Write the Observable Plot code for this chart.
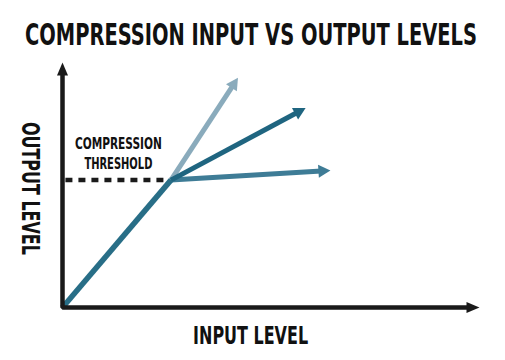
<!DOCTYPE html>
<html><head><meta charset="utf-8">
<script src="https://cdn.jsdelivr.net/npm/d3@7"></script>
<script src="https://cdn.jsdelivr.net/npm/@observablehq/plot@0.6"></script>
<style>
body{margin:0;background:#fff;}
#wrap{position:relative;width:505px;height:360px;overflow:hidden;background:#fff;}
#title{position:absolute;left:25px;top:20px;margin:0;display:inline-block;font-weight:bold;font-size:30px;line-height:30px;font-family:"DejaVu Sans Condensed","Liberation Sans Narrow","DejaVu Sans",sans-serif;font-stretch:condensed;white-space:nowrap;transform-origin:0 0;color:#111;}
#chart{position:absolute;left:0;top:60px;}
</style></head><body>
<div id="wrap"><h1 id="title">COMPRESSION INPUT VS OUTPUT LEVELS</h1><div id="chart"></div></div>
<script>
// ---- data (input / output level units, 0–100) ----
const kneeInput = [26];          // compression threshold (input)
const kneeOutput = [52];         // compression threshold (output)
const seriesNames = ["low ratio", "high ratio", "medium ratio"];
const endInput = [40.9, 62.1, 56.4];
const endOutput = [90.7, 55.7, 79.7];
const seriesColors = ["#8aabbc", "#3e7c96", "#1f6580"];
const axisInput = [0, 0, 97.6];
const axisOutput = [95.9, 0, 0];
const thresholdStart = [0.7];
const xAxisLabel = ["INPUT LEVEL"];
const yAxisLabel = ["OUTPUT LEVEL"];
const thresholdLabel = ["COMPRESSION\nTHRESHOLD"];

const FONT = '"DejaVu Sans Condensed","Liberation Sans Narrow","DejaVu Sans",sans-serif';
const NS = "http://www.w3.org/2000/svg";
function head(len, back, half) {
  return (color) => {
    const m = document.createElementNS(NS, "marker");
    m.setAttribute("viewBox", `${-back} ${-half} ${len + back} ${2 * half}`);
    m.setAttribute("markerUnits", "userSpaceOnUse");
    m.setAttribute("markerWidth", len + back);
    m.setAttribute("markerHeight", 2 * half);
    m.setAttribute("refX", 0);
    m.setAttribute("refY", 0);
    m.setAttribute("orient", "auto-start-reverse");
    m.setAttribute("overflow", "visible");
    const p = document.createElementNS(NS, "path");
    p.setAttribute("d", `M${-back},${-half}L${len},0L${-back},${half}Z`);
    p.setAttribute("fill", color);
    p.setAttribute("stroke", "none");
    m.appendChild(p);
    return m;
  };
}

const idx = d3.range(seriesNames.length);
const svg = Plot.plot({
  width: 505,
  height: 300,
  marginLeft: 62,
  marginRight: 26,
  marginTop: 2,
  marginBottom: 53,
  x: {domain: [0, 100], axis: null},
  y: {domain: [0, 100], axis: null},
  color: {type: "identity"},
  style: {background: "#fff", overflow: "visible"},
  marks: [
    // dashed threshold line
    Plot.link([0], {
      x1: (d, i) => thresholdStart[i], x2: (d, i) => kneeInput[i],
      y1: (d, i) => kneeOutput[i], y2: (d, i) => kneeOutput[i],
      stroke: "#1a1a1a", strokeWidth: 4.5, strokeDasharray: "7,6"
    }),
    // compressed slopes
    Plot.link(idx, {
      x1: () => kneeInput[0], y1: () => kneeOutput[0],
      x2: (i) => endInput[i], y2: (i) => endOutput[i],
      stroke: (i) => seriesColors[i], strokeWidth: 5,
      markerEnd: head(9, 3, 6.5)
    }),
    // linear (1:1) part
    Plot.link([0], {
      x1: () => 0, y1: () => 0,
      x2: (d, i) => kneeInput[i], y2: (d, i) => kneeOutput[i],
      stroke: "#286e87", strokeWidth: 5.5
    }),
    // axes
    Plot.line(d3.range(axisInput.length), {
      x: axisInput, y: axisOutput,
      stroke: "#1a1a1a", strokeWidth: 4.5, strokeLinejoin: "miter",
      markerStart: head(10, 3, 5.5), markerEnd: head(10, 3, 5.5)
    }),
    Plot.text(xAxisLabel, {
      x: () => 45.1, y: () => -14.7, text: d => d, lineAnchor: "bottom",
      fontSize: 25, fontWeight: "bold", fontFamily: FONT, fill: "#111"
    }),
    Plot.text(yAxisLabel, {
      x: () => -7.7, y: () => 48.6, text: d => d, rotate: 90, lineAnchor: "middle",
      fontSize: 25, fontWeight: "bold", fontFamily: FONT, fill: "#111"
    }),
    Plot.text(thresholdLabel, {
      x: () => 13.4, y: () => 56.7, text: d => d, lineAnchor: "bottom", lineHeight: 1.33,
      fontSize: 15, fontWeight: "bold", fontFamily: FONT, fill: "#111"
    })
  ]
});

const targetWidth = {"INPUT LEVEL": 115, "OUTPUT LEVEL": 133, "COMPRESSION": 87, "THRESHOLD": 68};
svg.querySelectorAll("text, tspan").forEach(el => {
  if (el.querySelector("tspan")) return;
  const t = el.textContent.trim();
  if (targetWidth[t]) {
    el.setAttribute("textLength", targetWidth[t]);
    el.setAttribute("lengthAdjust", "spacingAndGlyphs");
  }
});
document.getElementById("chart").appendChild(svg);

const title = document.getElementById("title");
const w = title.getBoundingClientRect().width;
title.style.transform = `scaleX(${452 / w})`;
</script>
</body></html>
